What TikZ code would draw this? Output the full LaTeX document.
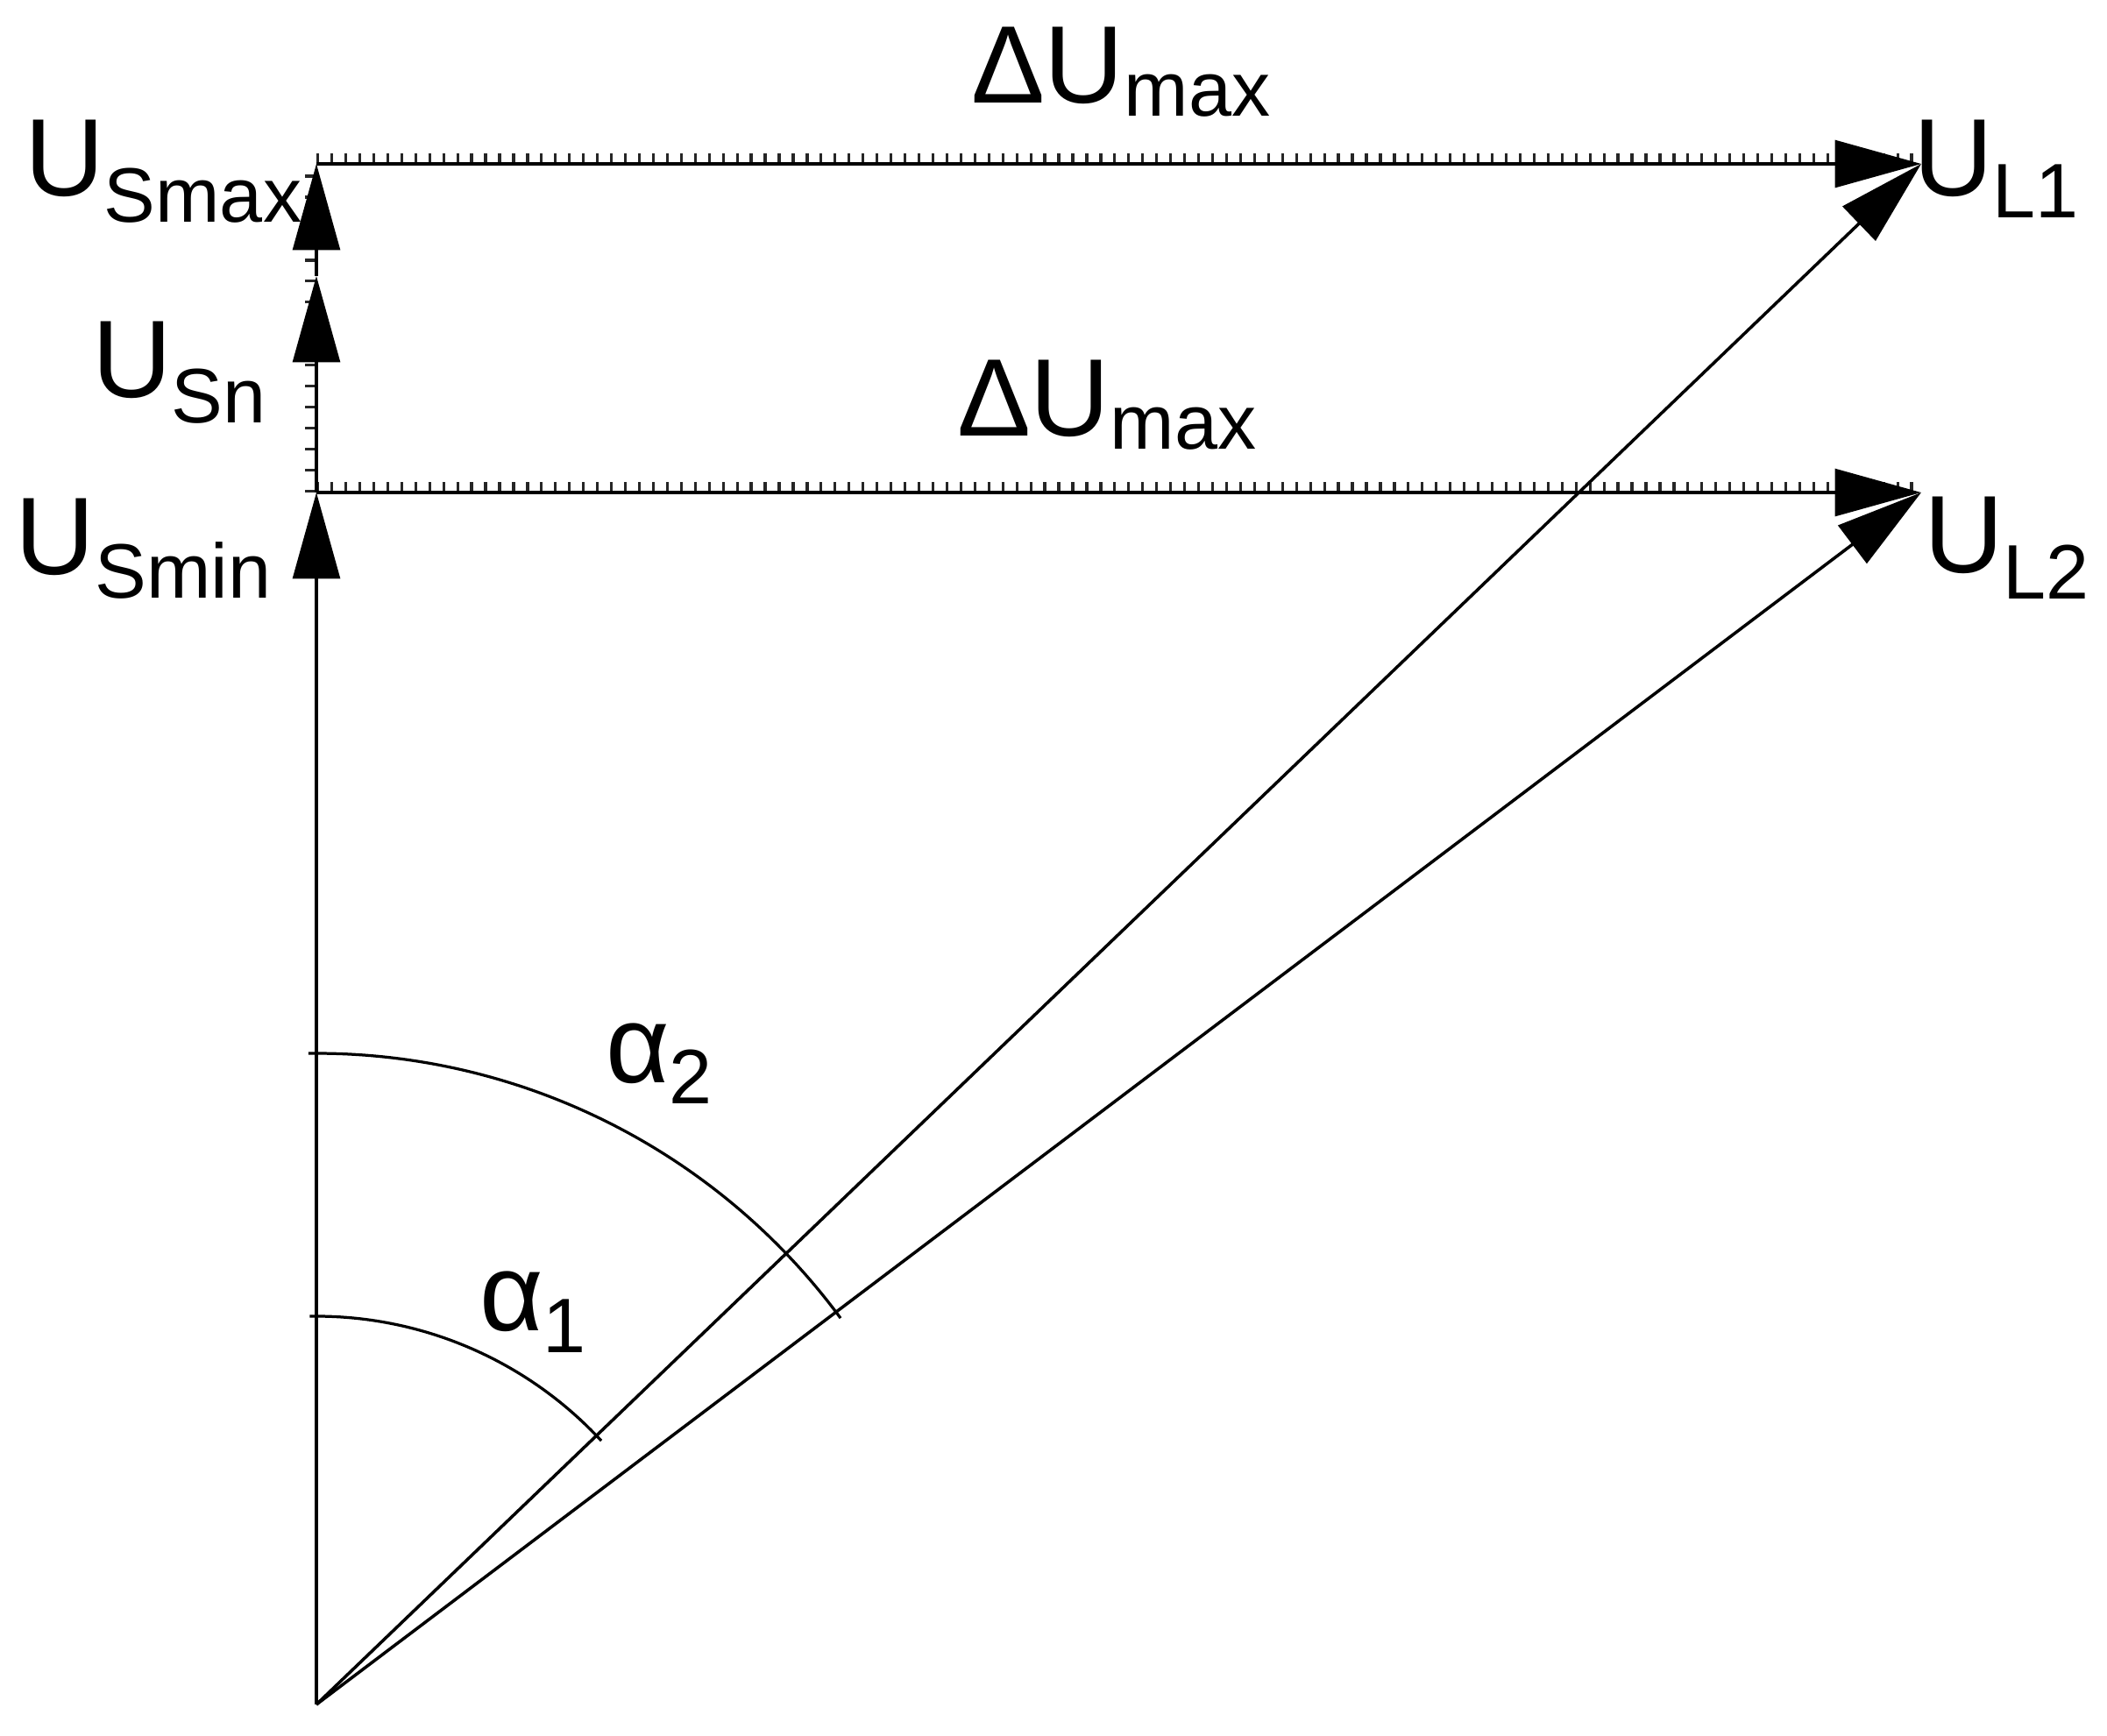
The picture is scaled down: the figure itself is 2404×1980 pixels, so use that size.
\documentclass[tikz,border=0pt]{standalone}
\usepackage{fontspec}
\setmainfont{Liberation Sans}
\usetikzlibrary{arrows.meta}
\newcommand\mylab[3]{{\fontsize{23.25pt}{28pt}\selectfont #1}\raisebox{-#3}{\fontsize{16.3pt}{20pt}\selectfont #2}}
\begin{document}
\begin{tikzpicture}[x=0.0065cm,y=0.0065cm,
  vec/.style={line width=0.65pt,-{Triangle[length=0.64cm,width=0.35cm]}},
  plain/.style={line width=0.6pt},
  hticks/.style={line width=0.078cm, dash pattern=on 0.6pt off 2.35pt, black!85},
  vticks/.style={line width=0.085cm, dash pattern=on 0.6pt off 3.83pt, black!85},
  lab/.style={anchor=base west, inner sep=0pt, outer sep=0pt}]
\useasboundingbox (0,0) rectangle (2404,-1980);
% points
\coordinate (O) at (361,-1945);
\coordinate (Smin) at (361,-562);
\coordinate (Sn) at (361,-315);
\coordinate (Smax) at (361,-187);
\coordinate (L1) at (2192,-187);
\coordinate (L2) at (2192,-562);
% tick marks
\draw[hticks] ([yshift=0.039cm]Smax) -- ([yshift=0.039cm]L1);
\draw[hticks] ([yshift=0.039cm]Smin) -- ([yshift=0.039cm]L2);
\draw[vticks] ([xshift=-0.042cm]Smin) -- ([xshift=-0.042cm]Smax);
% vectors
\draw[vec] (O) -- (Smin);
\draw[vec] (Smin) -- (Sn);
\draw[vec] (Sn) -- (Smax);
\draw[vec] (Smax) -- (L1);
\draw[vec] (Smin) -- (L2);
\draw[vec] (O) -- (L1);
\draw[vec] (O) -- (L2);
% angle arcs
\draw[plain] (O) ++(91.0:2.8795cm) arc[start angle=91.0, end angle=42.8, radius=2.8795cm];
\draw[plain] (O) ++(90.7:4.8295cm) arc[start angle=90.7, end angle=36.4, radius=4.8295cm];
% labels
\node[lab] (lSmax) at (28,-223) {\mylab{U}{Smax}{0.195cm}};
\node[lab] (lSn) at (105,-453) {\mylab{U}{Sn}{0.19cm}};
\node[lab] (lSmin) at (18,-655) {\mylab{U}{Smin}{0.18cm}};
\node[lab] (lL1) at (2183,-223) {\mylab{U}{L1}{0.163cm}};
\node[lab] (lL2) at (2195,-653) {\mylab{U}{L2}{0.195cm}};
\node[lab] (dU1) at (1108,-117) {\mylab{ΔU}{max}{0.1cm}};
\node[lab] (dU2) at (1092,-497) {\mylab{ΔU}{max}{0.1cm}};
\node[lab] (a2) at (691,-1235) {\mylab{α}{2}{0.156cm}};
\node[lab] (a1) at (547,-1518) {\mylab{α}{1}{0.163cm}};
\end{tikzpicture}
\end{document}
